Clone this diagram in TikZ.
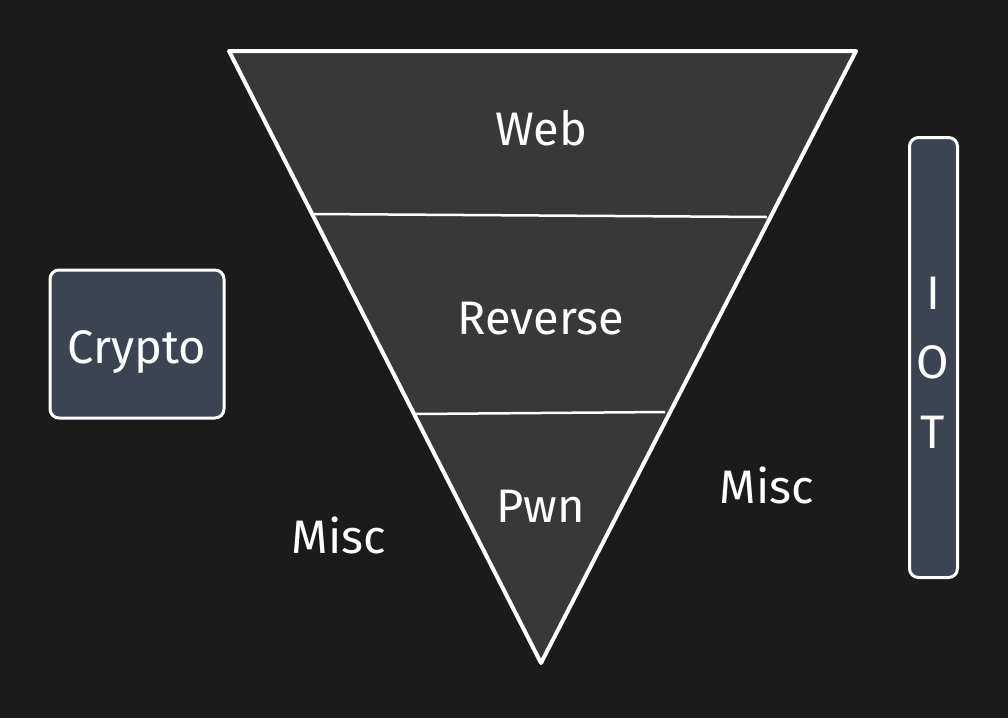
\documentclass[tikz,border=0pt]{standalone}
\usepackage{fontspec}
\setmainfont{Fira Sans}
\usetikzlibrary{positioning}
\definecolor{bgdark}{HTML}{1B1B1B}
\definecolor{funnelgray}{HTML}{383838}
\definecolor{boxslate}{HTML}{3C4453}

\begin{document}
\begin{tikzpicture}[x=1pt,y=-1pt,line join=round]
\tikzstyle{label}=[text=white,font=\fontsize{47}{50}\selectfont,inner sep=0pt,anchor=base]
\tikzstyle{tag}=[draw=white,line width=3pt,fill=boxslate,rounded corners=9pt,inner sep=0pt]

% background
\fill[bgdark] (0,0) rectangle (1008,718);
\useasboundingbox (0,0) rectangle (1008,718);

% funnel
\coordinate (tl) at (229,51);
\coordinate (tr) at (856,51);
\coordinate (bot) at (541,663);
\fill[funnelgray] (tl) -- (tr) -- (bot) -- cycle;

\coordinate (w1) at (313,214);
\coordinate (w2) at (767,217);
\coordinate (r1) at (415,414);
\coordinate (r2) at (665,412);
\draw[white,line width=2.5pt] (w1) -- (w2);
\draw[white,line width=2.5pt] (r1) -- (r2);
\draw[white,line width=4pt] (tl) -- (tr) -- (bot) -- cycle;

\node[label] (web) at (541,145) {Web};
\node[label] (rev) at (541,334) {Reverse};
\node[label] (pwn) at (541,522) {Pwn};

% side categories
\node[tag,minimum width=174pt,minimum height=148pt] (crypto) at (137,344) {};
\node[label] (cryptotxt) at (137,363) {Crypto};
\node[tag,minimum width=48pt,minimum height=440pt] (iot) at (933.5,357.5) {};
\node[label] (i) at (933,309) {I};
\node[label] (o) at (933,378.5) {O};
\node[label] (t) at (933,448) {T};

\node[label] (miscl) at (339,553) {Misc};
\node[label] (miscr) at (767,503) {Misc};
\end{tikzpicture}
\end{document}
